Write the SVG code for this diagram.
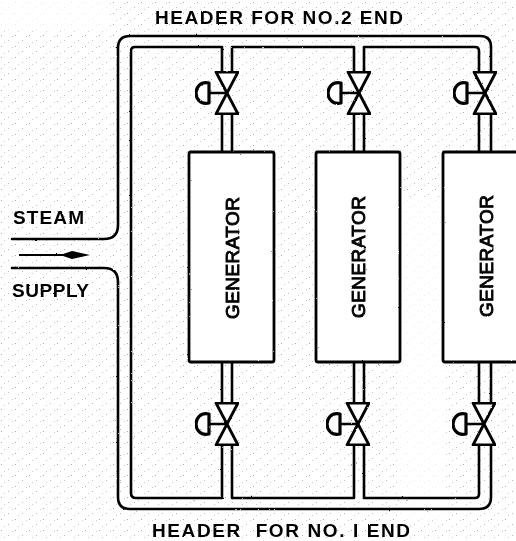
<svg xmlns="http://www.w3.org/2000/svg" width="516" height="541" viewBox="0 0 516 541">
<style>
.p{fill:none;stroke:#000;stroke-width:2.6;stroke-linejoin:round;stroke-linecap:round}
.v{fill:#fff;stroke:#000;stroke-width:2.8;stroke-linejoin:round}
.h{fill:#fff;stroke:#000;stroke-width:3.2;stroke-linejoin:round}
.g{fill:#fff;stroke:#000;stroke-width:2.8;stroke-linejoin:round}
.t{font-family:"Liberation Sans",Arial,sans-serif;font-weight:700;font-size:19px;fill:#000}
.r{font-weight:400;stroke:#000;stroke-width:.9}
</style>
<defs>
<pattern id="d" width="14" height="11" patternUnits="userSpaceOnUse">
<rect x="1" y="2" width="1" height="1" fill="#aaa"/><rect x="8" y="7" width="1" height="1" fill="#bbb"/><rect x="12" y="3" width="1" height="1" fill="#ccc"/><rect x="4" y="9" width="1" height="1" fill="#ccc"/>
</pattern>
<filter id="j" x="-2%" y="-2%" width="104%" height="104%">
<feTurbulence type="fractalNoise" baseFrequency=".45" numOctaves="1" seed="4"/>
<feDisplacementMap in="SourceGraphic" scale="2" xChannelSelector="R" yChannelSelector="G"/>
</filter>
<g id="valve">
<path class="p" d="M0 0H-18"/>
<path class="v" d="M-11 -21H11L-11 21H11Z"/>
<path class="h" d="M-18 -10C-27 -12 -31 -5 -31 0C-31 5 -27 12 -18 10Z"/>
</g>
</defs>
<rect width="516" height="541" fill="#fff"/>
<rect id="stipple" width="516" height="541" fill="url(#d)"/>
<path d="M189 152H274V362H189ZM316 152H400V362H316ZM443 152H516V362H443Z" fill="#fff"/>
<path d="M400 200H443V520H400ZM0 0H110V30H0Z" fill="#fff" opacity=".7"/>
<g id="connectors" filter="url(#j)">
<path class="p" d="M12 239H104Q118 239 118 225V48Q118 36 130 36H480Q491 36 491 47V72"/>
<path class="p" d="M12 268H104Q118 268 118 282V497Q118 509 130 509H479Q491 509 491 497V444"/>
<path class="p" d="M222 72V47H135Q131 47 131 51V493Q131 498 136 498H222V444"/>
<path class="p" d="M232 72V47H354V72"/>
<path class="p" d="M364 72V47H475Q479 47 479 51V72"/>
<path class="p" d="M232 444V498H354V444"/>
<path class="p" d="M364 444V498H475Q479 498 479 494V444"/>
<path class="p" d="M222 114V151M232 114V151M354 114V151M364 114V151M479 114V151M491 114V151"/>
<path class="p" d="M222 363V403M232 363V403M354 363V403M364 363V403M479 363V403M491 363V403"/>
<path d="M19 254H63L72 251L90 255L72 259L63 256H19Z" fill="#000"/>
</g>
<g id="gen1" filter="url(#j)"><rect class="g" x="189" y="152" width="85" height="210" rx="2"/><text class="t r" transform="translate(239 319) rotate(-90)" textLength="122">GENERATOR</text></g>
<g id="gen2" filter="url(#j)"><rect class="g" x="316" y="152" width="84" height="210" rx="2"/><text class="t r" transform="translate(365 318) rotate(-90)" textLength="122">GENERATOR</text></g>
<g id="gen3" filter="url(#j)"><rect class="g" x="443" y="152" width="90" height="210" rx="2"/><text class="t r" transform="translate(493 317) rotate(-90)" textLength="122">GENERATOR</text></g>
<g id="valve-t1" filter="url(#j)"><use href="#valve" x="227" y="93"/></g>
<g id="valve-t2" filter="url(#j)"><use href="#valve" x="359" y="93"/></g>
<g id="valve-t3" filter="url(#j)"><use href="#valve" x="485" y="93"/></g>
<g id="valve-b1" filter="url(#j)"><use href="#valve" x="227" y="424"/></g>
<g id="valve-b2" filter="url(#j)"><use href="#valve" x="358" y="424"/></g>
<g id="valve-b3" filter="url(#j)"><use href="#valve" x="484" y="424"/></g>
<g id="labels" filter="url(#j)">
<text class="t" x="155" y="24" textLength="248" xml:space="preserve">HEADER FOR NO.2 END</text>
<text class="t" x="152" y="537" textLength="258" xml:space="preserve">HEADER  FOR NO. I END</text>
<text class="t" x="13" y="224" textLength="71">STEAM</text>
<text class="t" x="12" y="297" textLength="77">SUPPLY</text>
</g>
</svg>
